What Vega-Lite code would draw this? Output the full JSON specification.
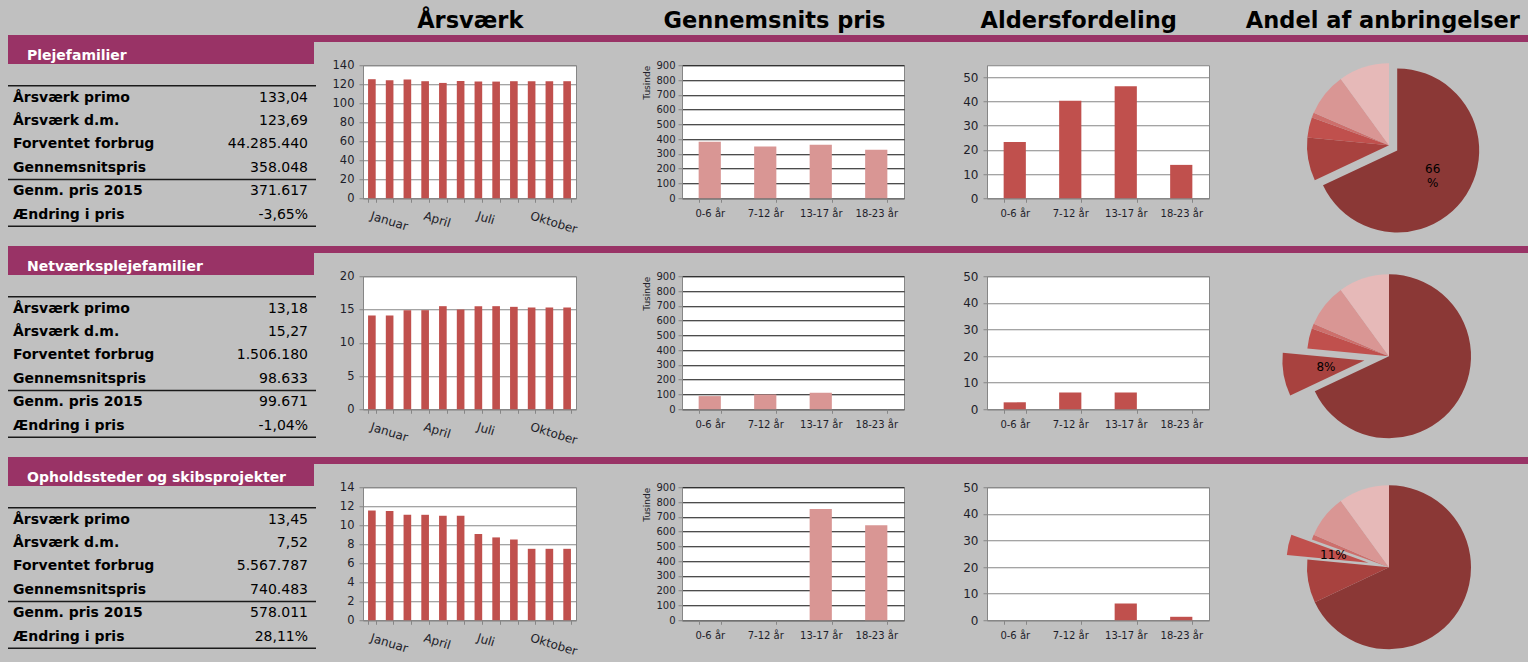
{
  "$schema": "https://vega.github.io/schema/vega-lite/v6.json",
  "background": "#c0c0c0",
  "padding": {"left": 7, "top": 0, "right": 0, "bottom": 0},
  "spacing": 0,
  "config": {
    "font": "DejaVu Sans",
    "view": {"stroke": null},
    "axis": {"labelFont": "DejaVu Sans", "labelColor": "#1e1e2a", "domainColor": "#868686", "tickColor": "#868686", "gridColor": "#868686", "titleFont": "DejaVu Sans", "titleColor": "#1e1e2a"}
  },
  "datasets": {
    "aar1": [{"maaned":"Januar","aarsvaerk":125.3},{"maaned":"Februar","aarsvaerk":124.2},{"maaned":"Marts","aarsvaerk":124.9},{"maaned":"April","aarsvaerk":123.2},{"maaned":"Maj","aarsvaerk":121.4},{"maaned":"Juni","aarsvaerk":123.5},{"maaned":"Juli","aarsvaerk":122.8},{"maaned":"August","aarsvaerk":122.8},{"maaned":"September","aarsvaerk":123.2},{"maaned":"Oktober","aarsvaerk":123.2},{"maaned":"November","aarsvaerk":123.2},{"maaned":"December","aarsvaerk":123.2}],
    "aar2": [{"maaned":"Januar","aarsvaerk":14.1},{"maaned":"Februar","aarsvaerk":14.1},{"maaned":"Marts","aarsvaerk":14.9},{"maaned":"April","aarsvaerk":14.9},{"maaned":"Maj","aarsvaerk":15.5},{"maaned":"Juni","aarsvaerk":15.0},{"maaned":"Juli","aarsvaerk":15.5},{"maaned":"August","aarsvaerk":15.5},{"maaned":"September","aarsvaerk":15.4},{"maaned":"Oktober","aarsvaerk":15.3},{"maaned":"November","aarsvaerk":15.3},{"maaned":"December","aarsvaerk":15.3}],
    "aar3": [{"maaned":"Januar","aarsvaerk":11.55},{"maaned":"Februar","aarsvaerk":11.5},{"maaned":"Marts","aarsvaerk":11.1},{"maaned":"April","aarsvaerk":11.1},{"maaned":"Maj","aarsvaerk":11.0},{"maaned":"Juni","aarsvaerk":11.0},{"maaned":"Juli","aarsvaerk":9.07},{"maaned":"August","aarsvaerk":8.72},{"maaned":"September","aarsvaerk":8.5},{"maaned":"Oktober","aarsvaerk":7.52},{"maaned":"November","aarsvaerk":7.52},{"maaned":"December","aarsvaerk":7.52}],
    "pris1": [{"alder":"0-6 år","pris":382},{"alder":"7-12 år","pris":350},{"alder":"13-17 år","pris":362},{"alder":"18-23 år","pris":328}],
    "pris2": [{"alder":"0-6 år","pris":89},{"alder":"7-12 år","pris":100},{"alder":"13-17 år","pris":111},{"alder":"18-23 år","pris":0}],
    "pris3": [{"alder":"0-6 år","pris":0},{"alder":"7-12 år","pris":0},{"alder":"13-17 år","pris":752},{"alder":"18-23 år","pris":643}],
    "alder1": [{"alder":"0-6 år","antal":23.3},{"alder":"7-12 år","antal":40.3},{"alder":"13-17 år","antal":46.3},{"alder":"18-23 år","antal":13.8}],
    "alder2": [{"alder":"0-6 år","antal":2.6},{"alder":"7-12 år","antal":6.3},{"alder":"13-17 år","antal":6.3},{"alder":"18-23 år","antal":0}],
    "alder3": [{"alder":"0-6 år","antal":0},{"alder":"7-12 år","antal":0},{"alder":"13-17 år","antal":6.3},{"alder":"18-23 år","antal":1.3}],
    "tab1": [{"post":"Årsværk primo","vaerdi":"133,04"},{"post":"Årsværk d.m.","vaerdi":"123,69"},{"post":"Forventet forbrug","vaerdi":"44.285.440"},{"post":"Gennemsnitspris","vaerdi":"358.048"},{"post":"Genm. pris 2015","vaerdi":"371.617"},{"post":"Ændring i pris","vaerdi":"-3,65%"}],
    "tab2": [{"post":"Årsværk primo","vaerdi":"13,18"},{"post":"Årsværk d.m.","vaerdi":"15,27"},{"post":"Forventet forbrug","vaerdi":"1.506.180"},{"post":"Gennemsnitspris","vaerdi":"98.633"},{"post":"Genm. pris 2015","vaerdi":"99.671"},{"post":"Ændring i pris","vaerdi":"-1,04%"}],
    "tab3": [{"post":"Årsværk primo","vaerdi":"13,45"},{"post":"Årsværk d.m.","vaerdi":"7,52"},{"post":"Forventet forbrug","vaerdi":"5.567.787"},{"post":"Gennemsnitspris","vaerdi":"740.483"},{"post":"Genm. pris 2015","vaerdi":"578.011"},{"post":"Ændring i pris","vaerdi":"28,11%"}],
    "andel1": [{"type":"Plejefamilier","andel":68,"etiket":"66 %"},{"type":"Netværksplejefamilier","andel":8.5,"etiket":""},{"type":"Opholdssteder og skibsprojekter","andel":4,"etiket":""},{"type":"Kost- og efterskoler","andel":1,"etiket":""},{"type":"Døgninstitutioner","andel":8.5,"etiket":""},{"type":"Eget værelse","andel":10,"etiket":""}],
    "andel2": [{"type":"Plejefamilier","andel":68,"etiket":""},{"type":"Netværksplejefamilier","andel":8.5,"etiket":"8%"},{"type":"Opholdssteder og skibsprojekter","andel":4,"etiket":""},{"type":"Kost- og efterskoler","andel":1,"etiket":""},{"type":"Døgninstitutioner","andel":8.5,"etiket":""},{"type":"Eget værelse","andel":10,"etiket":""}],
    "andel3": [{"type":"Plejefamilier","andel":68,"etiket":""},{"type":"Netværksplejefamilier","andel":8.5,"etiket":""},{"type":"Opholdssteder og skibsprojekter","andel":4,"etiket":"11%"},{"type":"Kost- og efterskoler","andel":1,"etiket":""},{"type":"Døgninstitutioner","andel":8.5,"etiket":""},{"type":"Eget værelse","andel":10,"etiket":""}]
  },
  "vconcat": [
    {
      "width": 1521, "height": 35,
      "data": {"values": [{"titel":"Årsværk"},{"titel":"Gennemsnits pris"},{"titel":"Aldersfordeling"},{"titel":"Andel af anbringelser"}]},
      "mark": {"type": "text", "fontSize": 22.5, "fontWeight": "bold", "color": "#000000", "dx": 6, "dy": 3},
      "encoding": {
        "x": {"field": "titel", "type": "nominal", "scale": {"type": "band", "domain": ["", "Årsværk", "Gennemsnits pris", "Aldersfordeling", "Andel af anbringelser"], "paddingInner": 0, "paddingOuter": 0}, "axis": null},
        "text": {"field": "titel", "type": "nominal"}
      }
    },
    {
      "spacing": -5.75,
      "vconcat": [
        {"bounds": "flush", "spacing": 0, "hconcat": [
          {"width": 306, "height": 29, "view": {"fill": "#993366", "stroke": null}, "data": {"values": [{"afsnit": "Plejefamilier"}]},
           "mark": {"type": "text", "align": "left", "dx": -134, "dy": 6, "color": "#ffffff", "fontWeight": "bold", "fontSize": 14},
           "encoding": {"text": {"field": "afsnit", "type": "nominal"}}},
          {"width": 1215, "height": 7, "view": {"fill": "#993366", "stroke": null}, "data": {"values": []}, "mark": "rect", "encoding": {}}
        ]},
        {"bounds": "flush", "spacing": 0, "hconcat": [
          {"width": 308, "height": 180.5, "data": {"name": "tab1"},
           "encoding": {"y": {"field": "post", "type": "nominal", "scale": {"type": "band", "domain": ["Årsværk primo","Årsværk d.m.","Forventet forbrug","Gennemsnitspris","Genm. pris 2015","Ændring i pris"], "paddingInner": 0, "paddingOuter": 0.857, "align": 0.514}, "axis": null}},
           "layer": [
             {"mark": {"type": "text", "align": "left", "fontSize": 14, "fontWeight": "bold", "color": "#000000"},
              "encoding": {"x": {"datum": "post", "type": "nominal", "scale": {"type": "point", "domain": ["post", "vaerdi"], "padding": 0.022, "align": 0.385}, "axis": null}, "text": {"field": "post", "type": "nominal"}}},
             {"mark": {"type": "text", "align": "right", "fontSize": 14, "color": "#000000"},
              "encoding": {"x": {"datum": "vaerdi", "type": "nominal"}, "text": {"field": "vaerdi", "type": "nominal"}}},
             {"transform": [{"filter": "datum.post === 'Årsværk primo' || datum.post === 'Genm. pris 2015'"}],
              "mark": {"type": "rule", "color": "#1a1a1a", "strokeWidth": 1.5},
              "encoding": {"y": {"field": "post", "type": "nominal", "bandPosition": 0}}},
             {"transform": [{"filter": "datum.post === 'Ændring i pris'"}],
              "mark": {"type": "rule", "color": "#1a1a1a", "strokeWidth": 1.5},
              "encoding": {"y": {"field": "post", "type": "nominal", "bandPosition": 1}}}
           ]},
          {"width": 47, "height": 10, "data": {"values": []}, "mark": "rect", "encoding": {}},
          {"width": 213, "height": 133, "view": {"fill": "#ffffff", "stroke": "#868686"}, "data": {"name": "aar1"},
           "mark": {"type": "bar", "color": "#c0504d"},
           "encoding": {
             "x": {"field": "maaned", "type": "ordinal", "sort": null, "scale": {"paddingInner": 0.57, "paddingOuter": 0.285},
                   "axis": {"title": null, "tickBand": "extent", "tickSize": 4, "labelAngle": 17, "labelAlign": "left", "labelBaseline": "top", "labelPadding": 8, "labelFontSize": 12, "labelOverlap": false, "labelExpr": "indexof(['Januar','April','Juli','Oktober'], datum.value) >= 0 ? datum.value : ''"}},
             "y": {"field": "aarsvaerk", "type": "quantitative", "scale": {"domain": [0, 140], "nice": false},
                   "axis": {"title": null, "values": [0,20,40,60,80,100,120,140], "grid": true, "tickSize": 4, "labelPadding": 5, "labelFontSize": 11.5}}
           }},
          {"width": 106, "height": 10, "data": {"values": []}, "mark": "rect", "encoding": {}},
          {"width": 222, "height": 133, "view": {"fill": "#ffffff", "stroke": "#868686"}, "data": {"name": "pris1"},
           "mark": {"type": "bar", "color": "#d99694"},
           "encoding": {
             "x": {"field": "alder", "type": "ordinal", "sort": null, "scale": {"paddingInner": 0.6, "paddingOuter": 0.3},
                   "axis": {"title": null, "tickBand": "extent", "tickSize": 4, "labelAngle": 0, "labelPadding": 6, "labelFontSize": 10}},
             "y": {"field": "pris", "type": "quantitative", "scale": {"domain": [0, 900], "nice": false},
                   "axis": {"title": "Tusinde", "titleFontSize": 9, "titleFontWeight": "normal", "titleAnchor": "end", "titlePadding": 4, "values": [0,100,200,300,400,500,600,700,800,900], "grid": true, "gridColor": "#111111", "tickSize": 4, "labelPadding": 3, "labelFontSize": 10}}
           }},
          {"width": 83, "height": 10, "data": {"values": []}, "mark": "rect", "encoding": {}},
          {"width": 222, "height": 133, "view": {"fill": "#ffffff", "stroke": "#868686"}, "data": {"name": "alder1"},
           "mark": {"type": "bar", "color": "#c0504d"},
           "encoding": {
             "x": {"field": "alder", "type": "ordinal", "sort": null, "scale": {"paddingInner": 0.6, "paddingOuter": 0.3},
                   "axis": {"title": null, "tickBand": "extent", "tickSize": 4, "labelAngle": 0, "labelPadding": 6, "labelFontSize": 10}},
             "y": {"field": "antal", "type": "quantitative", "scale": {"domain": [0, 55], "nice": false},
                   "axis": {"title": null, "values": [0,10,20,30,40,50], "grid": true, "tickSize": 4, "labelPadding": 5, "labelFontSize": 12}}
           }},
          {"width": 40, "height": 10, "data": {"values": []}, "mark": "rect", "encoding": {}},
          {"width": 280, "height": 160, "data": {"name": "andel1"},
           "transform": [{"window": [{"op": "row_number", "as": "nr"}]}],
           "encoding": {
             "theta": {"field": "andel", "type": "quantitative", "stack": true},
             "order": {"field": "nr", "type": "quantitative"},
             "color": {"field": "type", "type": "nominal", "scale": {"domain": ["Plejefamilier","Netværksplejefamilier","Opholdssteder og skibsprojekter","Kost- og efterskoler","Døgninstitutioner","Eget værelse"], "range": ["#8b3836","#a8423f","#c0504d","#cd6f6c","#d99694","#e6b9b8"]}, "legend": null}
           },
           "layer": [
             {"mark": {"type": "arc", "radius": 82}, "encoding": {"opacity": {"condition": {"test": "datum.type === 'Plejefamilier'", "value": 0}, "value": 1}}},
             {"mark": {"type": "arc", "radius": 82, "xOffset": 8.2, "yOffset": 5.2}, "encoding": {"opacity": {"condition": {"test": "datum.type === 'Plejefamilier'", "value": 1}, "value": 0}}},
             {"mark": {"type": "text", "radius": 42, "xOffset": 8.2, "yOffset": 5.2, "dy": -4, "fontSize": 12, "lineBreak": " "}, "encoding": {"text": {"field": "etiket", "type": "nominal"}, "color": {"value": "#000000"}}}
           ]}
        ]}
      ]
    },
    {
      "spacing": -5.75,
      "vconcat": [
        {"bounds": "flush", "spacing": 0, "hconcat": [
          {"width": 306, "height": 29, "view": {"fill": "#993366", "stroke": null}, "data": {"values": [{"afsnit": "Netværksplejefamilier"}]},
           "mark": {"type": "text", "align": "left", "dx": -134, "dy": 6, "color": "#ffffff", "fontWeight": "bold", "fontSize": 14},
           "encoding": {"text": {"field": "afsnit", "type": "nominal"}}},
          {"width": 1215, "height": 7, "view": {"fill": "#993366", "stroke": null}, "data": {"values": []}, "mark": "rect", "encoding": {}}
        ]},
        {"bounds": "flush", "spacing": 0, "hconcat": [
          {"width": 308, "height": 180.5, "data": {"name": "tab2"},
           "encoding": {"y": {"field": "post", "type": "nominal", "scale": {"type": "band", "domain": ["Årsværk primo","Årsværk d.m.","Forventet forbrug","Gennemsnitspris","Genm. pris 2015","Ændring i pris"], "paddingInner": 0, "paddingOuter": 0.857, "align": 0.514}, "axis": null}},
           "layer": [
             {"mark": {"type": "text", "align": "left", "fontSize": 14, "fontWeight": "bold", "color": "#000000"},
              "encoding": {"x": {"datum": "post", "type": "nominal", "scale": {"type": "point", "domain": ["post", "vaerdi"], "padding": 0.022, "align": 0.385}, "axis": null}, "text": {"field": "post", "type": "nominal"}}},
             {"mark": {"type": "text", "align": "right", "fontSize": 14, "color": "#000000"},
              "encoding": {"x": {"datum": "vaerdi", "type": "nominal"}, "text": {"field": "vaerdi", "type": "nominal"}}},
             {"transform": [{"filter": "datum.post === 'Årsværk primo' || datum.post === 'Genm. pris 2015'"}],
              "mark": {"type": "rule", "color": "#1a1a1a", "strokeWidth": 1.5},
              "encoding": {"y": {"field": "post", "type": "nominal", "bandPosition": 0}}},
             {"transform": [{"filter": "datum.post === 'Ændring i pris'"}],
              "mark": {"type": "rule", "color": "#1a1a1a", "strokeWidth": 1.5},
              "encoding": {"y": {"field": "post", "type": "nominal", "bandPosition": 1}}}
           ]},
          {"width": 47, "height": 10, "data": {"values": []}, "mark": "rect", "encoding": {}},
          {"width": 213, "height": 133, "view": {"fill": "#ffffff", "stroke": "#868686"}, "data": {"name": "aar2"},
           "mark": {"type": "bar", "color": "#c0504d"},
           "encoding": {
             "x": {"field": "maaned", "type": "ordinal", "sort": null, "scale": {"paddingInner": 0.57, "paddingOuter": 0.285},
                   "axis": {"title": null, "tickBand": "extent", "tickSize": 4, "labelAngle": 17, "labelAlign": "left", "labelBaseline": "top", "labelPadding": 8, "labelFontSize": 12, "labelOverlap": false, "labelExpr": "indexof(['Januar','April','Juli','Oktober'], datum.value) >= 0 ? datum.value : ''"}},
             "y": {"field": "aarsvaerk", "type": "quantitative", "scale": {"domain": [0, 20], "nice": false},
                   "axis": {"title": null, "values": [0,5,10,15,20], "grid": true, "tickSize": 4, "labelPadding": 5, "labelFontSize": 11.5}}
           }},
          {"width": 106, "height": 10, "data": {"values": []}, "mark": "rect", "encoding": {}},
          {"width": 222, "height": 133, "view": {"fill": "#ffffff", "stroke": "#868686"}, "data": {"name": "pris2"},
           "mark": {"type": "bar", "color": "#d99694"},
           "encoding": {
             "x": {"field": "alder", "type": "ordinal", "sort": null, "scale": {"paddingInner": 0.6, "paddingOuter": 0.3},
                   "axis": {"title": null, "tickBand": "extent", "tickSize": 4, "labelAngle": 0, "labelPadding": 6, "labelFontSize": 10}},
             "y": {"field": "pris", "type": "quantitative", "scale": {"domain": [0, 900], "nice": false},
                   "axis": {"title": "Tusinde", "titleFontSize": 9, "titleFontWeight": "normal", "titleAnchor": "end", "titlePadding": 4, "values": [0,100,200,300,400,500,600,700,800,900], "grid": true, "gridColor": "#111111", "tickSize": 4, "labelPadding": 3, "labelFontSize": 10}}
           }},
          {"width": 83, "height": 10, "data": {"values": []}, "mark": "rect", "encoding": {}},
          {"width": 222, "height": 133, "view": {"fill": "#ffffff", "stroke": "#868686"}, "data": {"name": "alder2"},
           "mark": {"type": "bar", "color": "#c0504d"},
           "encoding": {
             "x": {"field": "alder", "type": "ordinal", "sort": null, "scale": {"paddingInner": 0.6, "paddingOuter": 0.3},
                   "axis": {"title": null, "tickBand": "extent", "tickSize": 4, "labelAngle": 0, "labelPadding": 6, "labelFontSize": 10}},
             "y": {"field": "antal", "type": "quantitative", "scale": {"domain": [0, 50], "nice": false},
                   "axis": {"title": null, "values": [0,10,20,30,40,50], "grid": true, "tickSize": 4, "labelPadding": 5, "labelFontSize": 12}}
           }},
          {"width": 40, "height": 10, "data": {"values": []}, "mark": "rect", "encoding": {}},
          {"width": 280, "height": 160, "data": {"name": "andel2"},
           "transform": [{"window": [{"op": "row_number", "as": "nr"}]}],
           "encoding": {
             "theta": {"field": "andel", "type": "quantitative", "stack": true},
             "order": {"field": "nr", "type": "quantitative"},
             "color": {"field": "type", "type": "nominal", "scale": {"domain": ["Plejefamilier","Netværksplejefamilier","Opholdssteder og skibsprojekter","Kost- og efterskoler","Døgninstitutioner","Eget værelse"], "range": ["#8b3836","#a8423f","#c0504d","#cd6f6c","#d99694","#e6b9b8"]}, "legend": null}
           },
           "layer": [
             {"mark": {"type": "arc", "radius": 82}, "encoding": {"opacity": {"condition": {"test": "datum.type === 'Netværksplejefamilier'", "value": 0}, "value": 1}}},
             {"mark": {"type": "arc", "radius": 82, "xOffset": -24.6, "yOffset": 4.3}, "encoding": {"opacity": {"condition": {"test": "datum.type === 'Netværksplejefamilier'", "value": 1}, "value": 0}}},
             {"mark": {"type": "text", "radius": 39, "xOffset": -24.6, "yOffset": 4.3, "fontSize": 12}, "encoding": {"text": {"field": "etiket", "type": "nominal"}, "color": {"value": "#000000"}}}
           ]}
        ]}
      ]
    },
    {
      "spacing": -5.75,
      "vconcat": [
        {"bounds": "flush", "spacing": 0, "hconcat": [
          {"width": 306, "height": 29, "view": {"fill": "#993366", "stroke": null}, "data": {"values": [{"afsnit": "Opholdssteder og skibsprojekter"}]},
           "mark": {"type": "text", "align": "left", "dx": -134, "dy": 6, "color": "#ffffff", "fontWeight": "bold", "fontSize": 14},
           "encoding": {"text": {"field": "afsnit", "type": "nominal"}}},
          {"width": 1215, "height": 7, "view": {"fill": "#993366", "stroke": null}, "data": {"values": []}, "mark": "rect", "encoding": {}}
        ]},
        {"bounds": "flush", "spacing": 0, "hconcat": [
          {"width": 308, "height": 180.5, "data": {"name": "tab3"},
           "encoding": {"y": {"field": "post", "type": "nominal", "scale": {"type": "band", "domain": ["Årsværk primo","Årsværk d.m.","Forventet forbrug","Gennemsnitspris","Genm. pris 2015","Ændring i pris"], "paddingInner": 0, "paddingOuter": 0.857, "align": 0.514}, "axis": null}},
           "layer": [
             {"mark": {"type": "text", "align": "left", "fontSize": 14, "fontWeight": "bold", "color": "#000000"},
              "encoding": {"x": {"datum": "post", "type": "nominal", "scale": {"type": "point", "domain": ["post", "vaerdi"], "padding": 0.022, "align": 0.385}, "axis": null}, "text": {"field": "post", "type": "nominal"}}},
             {"mark": {"type": "text", "align": "right", "fontSize": 14, "color": "#000000"},
              "encoding": {"x": {"datum": "vaerdi", "type": "nominal"}, "text": {"field": "vaerdi", "type": "nominal"}}},
             {"transform": [{"filter": "datum.post === 'Årsværk primo' || datum.post === 'Genm. pris 2015'"}],
              "mark": {"type": "rule", "color": "#1a1a1a", "strokeWidth": 1.5},
              "encoding": {"y": {"field": "post", "type": "nominal", "bandPosition": 0}}},
             {"transform": [{"filter": "datum.post === 'Ændring i pris'"}],
              "mark": {"type": "rule", "color": "#1a1a1a", "strokeWidth": 1.5},
              "encoding": {"y": {"field": "post", "type": "nominal", "bandPosition": 1}}}
           ]},
          {"width": 47, "height": 10, "data": {"values": []}, "mark": "rect", "encoding": {}},
          {"width": 213, "height": 133, "view": {"fill": "#ffffff", "stroke": "#868686"}, "data": {"name": "aar3"},
           "mark": {"type": "bar", "color": "#c0504d"},
           "encoding": {
             "x": {"field": "maaned", "type": "ordinal", "sort": null, "scale": {"paddingInner": 0.57, "paddingOuter": 0.285},
                   "axis": {"title": null, "tickBand": "extent", "tickSize": 4, "labelAngle": 17, "labelAlign": "left", "labelBaseline": "top", "labelPadding": 8, "labelFontSize": 12, "labelOverlap": false, "labelExpr": "indexof(['Januar','April','Juli','Oktober'], datum.value) >= 0 ? datum.value : ''"}},
             "y": {"field": "aarsvaerk", "type": "quantitative", "scale": {"domain": [0, 14], "nice": false},
                   "axis": {"title": null, "values": [0,2,4,6,8,10,12,14], "grid": true, "tickSize": 4, "labelPadding": 5, "labelFontSize": 11.5}}
           }},
          {"width": 106, "height": 10, "data": {"values": []}, "mark": "rect", "encoding": {}},
          {"width": 222, "height": 133, "view": {"fill": "#ffffff", "stroke": "#868686"}, "data": {"name": "pris3"},
           "mark": {"type": "bar", "color": "#d99694"},
           "encoding": {
             "x": {"field": "alder", "type": "ordinal", "sort": null, "scale": {"paddingInner": 0.6, "paddingOuter": 0.3},
                   "axis": {"title": null, "tickBand": "extent", "tickSize": 4, "labelAngle": 0, "labelPadding": 6, "labelFontSize": 10}},
             "y": {"field": "pris", "type": "quantitative", "scale": {"domain": [0, 900], "nice": false},
                   "axis": {"title": "Tusinde", "titleFontSize": 9, "titleFontWeight": "normal", "titleAnchor": "end", "titlePadding": 4, "values": [0,100,200,300,400,500,600,700,800,900], "grid": true, "gridColor": "#111111", "tickSize": 4, "labelPadding": 3, "labelFontSize": 10}}
           }},
          {"width": 83, "height": 10, "data": {"values": []}, "mark": "rect", "encoding": {}},
          {"width": 222, "height": 133, "view": {"fill": "#ffffff", "stroke": "#868686"}, "data": {"name": "alder3"},
           "mark": {"type": "bar", "color": "#c0504d"},
           "encoding": {
             "x": {"field": "alder", "type": "ordinal", "sort": null, "scale": {"paddingInner": 0.6, "paddingOuter": 0.3},
                   "axis": {"title": null, "tickBand": "extent", "tickSize": 4, "labelAngle": 0, "labelPadding": 6, "labelFontSize": 10}},
             "y": {"field": "antal", "type": "quantitative", "scale": {"domain": [0, 50], "nice": false},
                   "axis": {"title": null, "values": [0,10,20,30,40,50], "grid": true, "tickSize": 4, "labelPadding": 5, "labelFontSize": 12}}
           }},
          {"width": 40, "height": 10, "data": {"values": []}, "mark": "rect", "encoding": {}},
          {"width": 280, "height": 160, "data": {"name": "andel3"},
           "transform": [{"window": [{"op": "row_number", "as": "nr"}]}],
           "encoding": {
             "theta": {"field": "andel", "type": "quantitative", "stack": true},
             "order": {"field": "nr", "type": "quantitative"},
             "color": {"field": "type", "type": "nominal", "scale": {"domain": ["Plejefamilier","Netværksplejefamilier","Opholdssteder og skibsprojekter","Kost- og efterskoler","Døgninstitutioner","Eget værelse"], "range": ["#8b3836","#a8423f","#c0504d","#cd6f6c","#d99694","#e6b9b8"]}, "legend": null}
           },
           "layer": [
             {"mark": {"type": "arc", "radius": 82}, "encoding": {"opacity": {"condition": {"test": "datum.type === 'Opholdssteder og skibsprojekter'", "value": 0}, "value": 1}}},
             {"mark": {"type": "arc", "radius": 82, "xOffset": -20.5, "yOffset": -4.6}, "encoding": {"opacity": {"condition": {"test": "datum.type === 'Opholdssteder og skibsprojekter'", "value": 1}, "value": 0}}},
             {"mark": {"type": "text", "radius": 36, "xOffset": -20.5, "yOffset": -4.6, "fontSize": 12}, "encoding": {"text": {"field": "etiket", "type": "nominal"}, "color": {"value": "#000000"}}}
           ]}
        ]}
      ]
    }
  ]
}
